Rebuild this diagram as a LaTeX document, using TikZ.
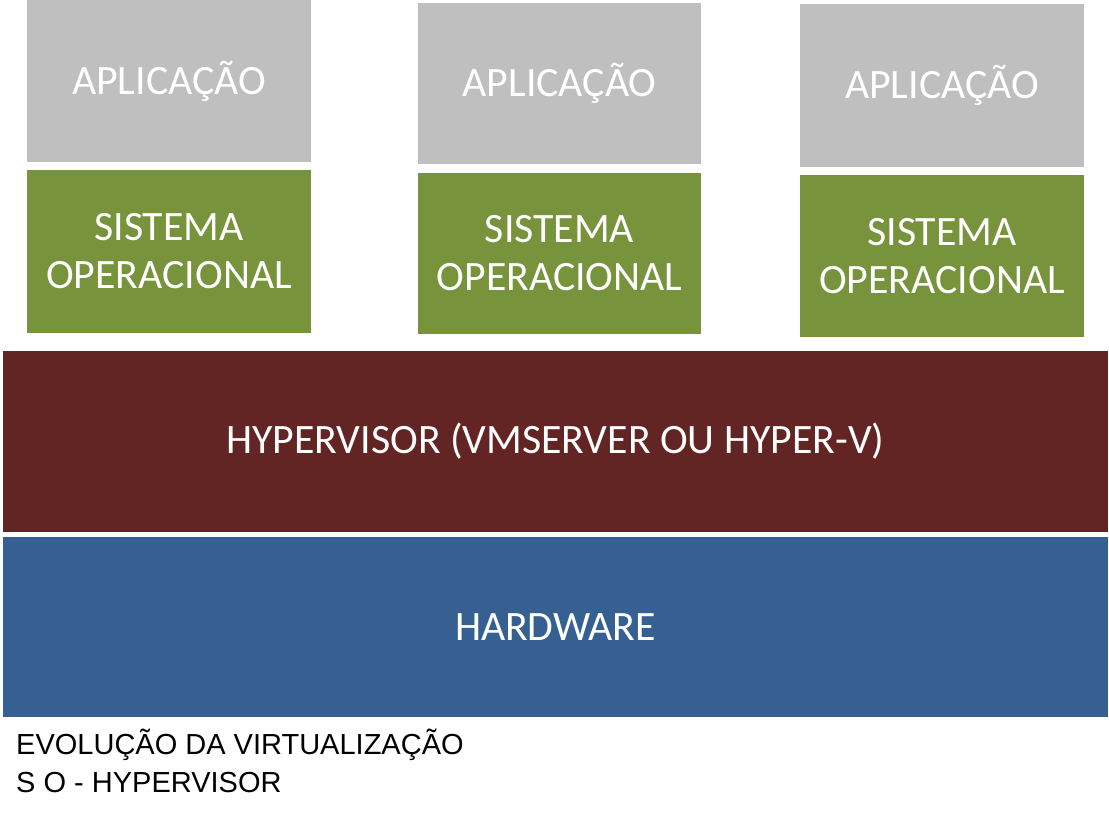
\documentclass[tikz,border=0pt]{standalone}
\usepackage{fontspec}
\setmainfont{Carlito}
\newfontfamily\arialf{Liberation Sans}
\definecolor{appgray}{HTML}{BFBFBF}
\definecolor{osgreen}{HTML}{77933C}
\definecolor{hypred}{HTML}{632523}
\definecolor{hwblue}{HTML}{376092}
\begin{document}
\begin{tikzpicture}[x=1pt,y=-1pt,
  layer/.style={draw=none, inner sep=0pt, outer sep=0pt, text=white, align=center,
    font=\fontsize{41.8}{48}\selectfont},
  appbox/.style={layer, fill=appgray},
  osbox/.style={layer, fill=osgreen},
  caption/.style={inner sep=0pt, anchor=base west, text=black, font=\arialf\fontsize{29}{38}\selectfont}
]
\useasboundingbox (0,0) rectangle (1109,814);
\fill[white] (0,0) rectangle (1109,814);
% applications
\node[appbox, minimum width=284pt, minimum height=162pt] (app1) at (169,81) {APLICAÇÃO};
\node[appbox, minimum width=283pt, minimum height=161pt] (app2) at (559.5,83.5) {APLICAÇÃO};
\node[appbox, minimum width=284pt, minimum height=163pt] (app3) at (942,85.5) {APLICAÇÃO};
% operating systems
\node[osbox, minimum width=284pt, minimum height=163pt] (os1) at (169,251.5) {SISTEMA\\OPERACIONAL};
\node[osbox, minimum width=283pt, minimum height=161pt] (os2) at (559.5,253.5) {SISTEMA\\OPERACIONAL};
\node[osbox, minimum width=284pt, minimum height=162pt] (os3) at (942,256) {SISTEMA\\OPERACIONAL};
% hypervisor and hardware
\node[layer, fill=hypred, minimum width=1105pt, minimum height=181pt] (hyp) at (555.5,441.5) {HYPERVISOR (VMSERVER OU HYPER-V)};
\node[layer, fill=hwblue, minimum width=1105pt, minimum height=180pt] (hw) at (555.5,627) {HARDWARE};
% caption
\node[caption] (cap1) at (16,754) {EVOLUÇÃO DA VIRTUALIZAÇÃO};
\node[caption] (cap2) at (16,792) {S O - HYPERVISOR};
\end{tikzpicture}
\end{document}
